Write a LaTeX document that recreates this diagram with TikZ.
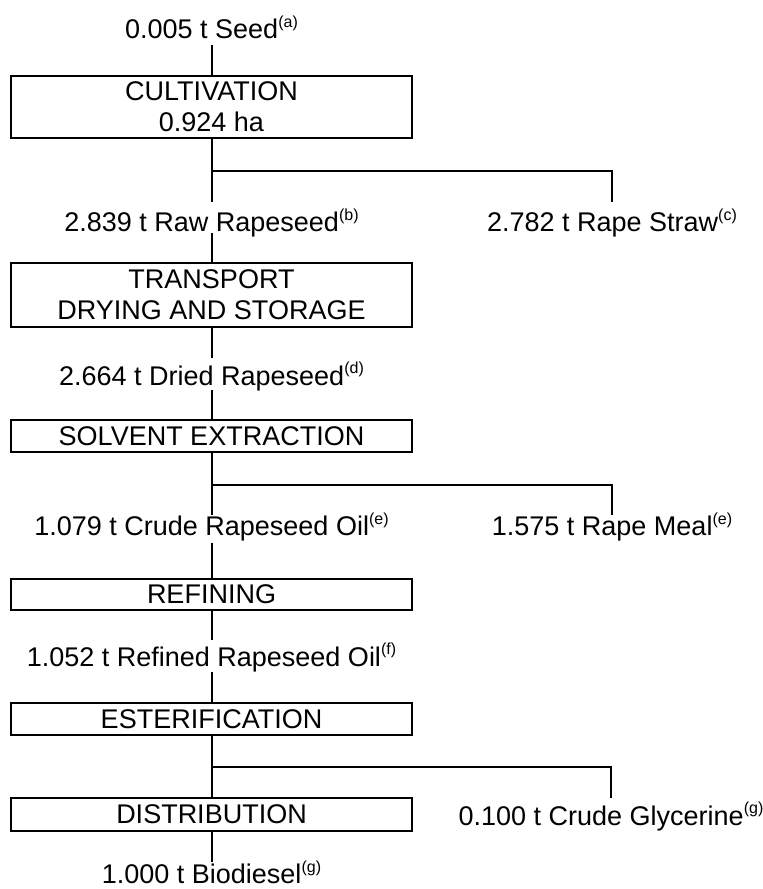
\documentclass[tikz,border=0pt]{standalone}
\usepackage{fontspec}
\setmainfont{Liberation Sans}
\newcommand{\sups}[1]{\raisebox{11.5pt}{\fontsize{16}{16}\selectfont(#1)}}
\begin{document}
\begin{tikzpicture}[x=1pt,y=-1pt,
  every node/.style={font=\fontsize{27}{31}\selectfont},
  procbox/.style={draw, line width=2pt, minimum width=401pt, inner sep=0pt, align=center},
  lbl/.style={inner xsep=1pt, inner ysep=0pt},
  conn/.style={line width=2pt}]
\useasboundingbox (0,0) rectangle (763,889);
% process boxes
\node[procbox, minimum height=62pt] (cult) at (211.5,107) {CULTIVATION\\0.924 ha};
\node[procbox, minimum height=64pt] (trans) at (211.5,295) {TRANSPORT\\DRYING AND STORAGE};
\node[procbox, minimum height=32pt] (solv) at (211.5,436) {SOLVENT EXTRACTION};
\node[procbox, minimum height=31pt] (ref) at (211.5,594.5) {REFINING};
\node[procbox, minimum height=32pt] (ester) at (211.5,719) {ESTERIFICATION};
\node[procbox, minimum height=33pt] (dist) at (211.5,814.5) {DISTRIBUTION};
% flow labels
\node[lbl, anchor=south, text height=19pt, text depth=6pt] (seed) at (211.5,45) {0.005 t Seed\sups{a}};
\node[lbl, anchor=north, text height=29.5pt, text depth=1.5pt] (raw) at (211.5,202) {2.839 t Raw Rapeseed\sups{b}};
\node[lbl, anchor=north, text height=29.5pt, text depth=1.5pt] (straw) at (612,202) {2.782 t Rape Straw\sups{c}};
\node[lbl, anchor=north, text height=27pt, text depth=5pt] (dried) at (211.5,358) {2.664 t Dried Rapeseed\sups{d}};
\node[lbl, anchor=north, text height=20.5pt, text depth=7.5pt] (crude) at (211.5,515) {1.079 t Crude Rapeseed Oil\sups{e}};
\node[lbl, anchor=north, text height=20.5pt, text depth=7.5pt] (meal) at (612,515) {1.575 t Rape Meal\sups{e}};
\node[lbl, anchor=north, text height=26pt, text depth=6pt] (refoil) at (211.5,640) {1.052 t Refined Rapeseed Oil\sups{f}};
\node[lbl, anchor=north, text height=27pt, text depth=5pt] (glyc) at (611,798) {0.100 t Crude Glycerine\sups{g}};
\node[lbl, anchor=north, text height=21.5pt, text depth=1pt] (bio) at (211.5,862) {1.000 t Biodiesel\sups{g}};
% junctions
\coordinate (j1) at (211.5,171);
\coordinate (j2) at (211.5,485);
\coordinate (j3) at (211.5,767);
% connectors
\draw[conn] (cult.north) -- (cult.north |- seed.south);
\draw[conn] (cult.south) -- (cult.south |- raw.north);
\draw[conn] (j1) -| (straw.north);
\draw[conn] (trans.north) -- (trans.north |- raw.south);
\draw[conn] (trans.south) -- (trans.south |- dried.north);
\draw[conn] (solv.north) -- (solv.north |- dried.south);
\draw[conn] (solv.south) -- (solv.south |- crude.north);
\draw[conn] (j2) -| (meal.north);
\draw[conn] (ref.north) -- (ref.north |- crude.south);
\draw[conn] (ref.south) -- (ref.south |- refoil.north);
\draw[conn] (ester.north) -- (ester.north |- refoil.south);
\draw[conn] (ester.south) -- (dist.north);
\draw[conn] (j3) -| (glyc.north);
\draw[conn] (dist.south) -- (dist.south |- bio.north);
\end{tikzpicture}
\end{document}
